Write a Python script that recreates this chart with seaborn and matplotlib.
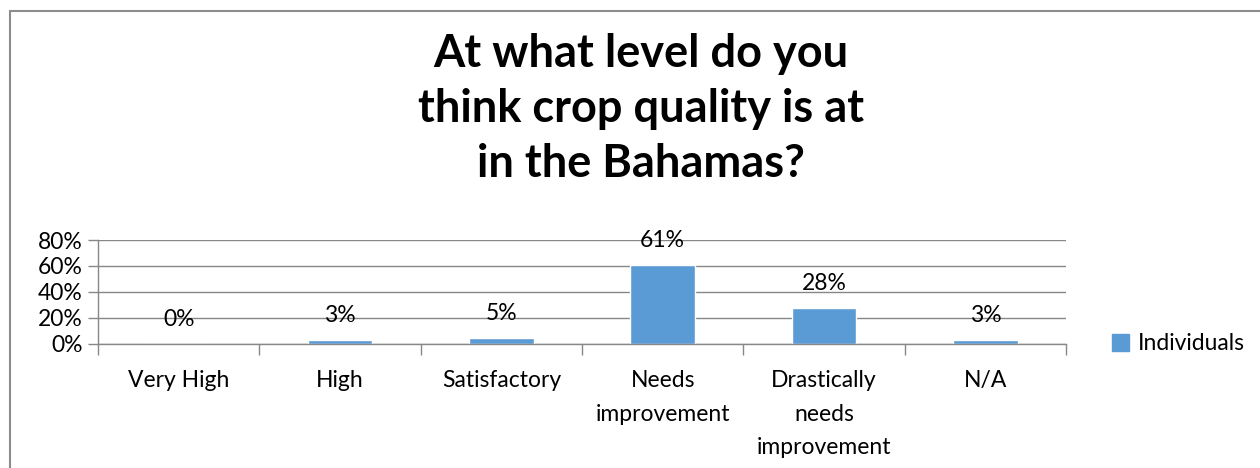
import matplotlib
matplotlib.use("Agg")
import matplotlib.pyplot as plt
import seaborn as sns
import pandas as pd
from matplotlib.ticker import PercentFormatter, FixedLocator
from matplotlib.lines import Line2D

# --- Data ---
categories = ["Very High", "High", "Satisfactory", "Needs\nimprovement",
              "Drastically\nneeds\nimprovement", "N/A"]
values = [0.0, 0.03, 0.05, 0.61, 0.28, 0.03]
value_labels = ["0%", "3%", "5%", "61%", "28%", "3%"]
series_name = "Individuals"
title = "At what level do you\nthink crop quality is at\nin the Bahamas?"

df = pd.DataFrame({"category": categories, "value": values})

sns.set_theme(style="white")
plt.rcParams["font.family"] = ["Lato", "DejaVu Sans"]
plt.rcParams["text.color"] = "black"
plt.rcParams["xtick.color"] = "black"
plt.rcParams["ytick.color"] = "black"

BAR = "#5B9BD5"
GRID = "#878787"
FS = 16.5

fig = plt.figure(figsize=(12.6, 4.68), dpi=100)
ax = fig.add_axes([98 / 1260, 1 - 344 / 468, (1066 - 98) / 1260, 104 / 468])

sns.barplot(data=df, x="category", y="value", color=BAR, width=0.4,
            saturation=1, ax=ax)

ax.set_ylim(0, 0.8)
ax.set_xlim(-0.5, len(categories) - 0.5)
ax.yaxis.set_major_formatter(PercentFormatter(1.0, decimals=0))
ax.set_yticks([0, 0.2, 0.4, 0.6, 0.8])
ax.grid(axis="y", color=GRID, linewidth=1)
ax.set_axisbelow(True)
ax.set_xlabel("")
ax.set_ylabel("")

for side in ["top", "right"]:
    ax.spines[side].set_visible(False)
for side in ["left", "bottom"]:
    ax.spines[side].set_color(GRID)
    ax.spines[side].set_linewidth(1)

ax.tick_params(axis="y", length=7, color=GRID, width=1, labelsize=FS, pad=4,
               left=True, labelcolor="black")
ax.tick_params(axis="x", which="major", length=0, labelsize=FS, pad=19,
               labelcolor="black")
ax.xaxis.set_minor_locator(FixedLocator([i - 0.5 for i in range(len(categories) + 1)]))
ax.tick_params(axis="x", which="minor", length=8, color=GRID, width=1, bottom=True)
for lbl in ax.get_xticklabels():
    lbl.set_linespacing(1.72)
    lbl.set_verticalalignment("top")

# data labels
for i, (v, t) in enumerate(zip(values, value_labels)):
    ax.annotate(t, (i, v), xytext=(0, 10), textcoords="offset points",
                ha="center", va="bottom", fontsize=FS, color="black")

# legend
handles = [plt.Rectangle((0, 0), 1, 1, color=BAR)]
fig.legend(handles, [series_name], loc="center left",
           bbox_to_anchor=(1101 / 1260, 1 - 344 / 468), frameon=False,
           fontsize=FS, handlelength=0.7, handleheight=0.7,
           handletextpad=0.4, borderpad=0)

fig.text(641 / 1260, 1 - 109 / 468, title, ha="center", va="center",
         fontsize=32.5, fontweight="bold", linespacing=1.37, color="black")

# chart border (top and left edges)
fig.add_artist(Line2D([10 / 1260, 1], [1 - 11 / 468, 1 - 11 / 468],
                      color="#8c8c8c", linewidth=1.5, transform=fig.transFigure))
fig.add_artist(Line2D([10 / 1260, 10 / 1260], [0, 1 - 11 / 468],
                      color="#8c8c8c", linewidth=1.5, transform=fig.transFigure))

fig.savefig("out.png", dpi=100, facecolor="white")
